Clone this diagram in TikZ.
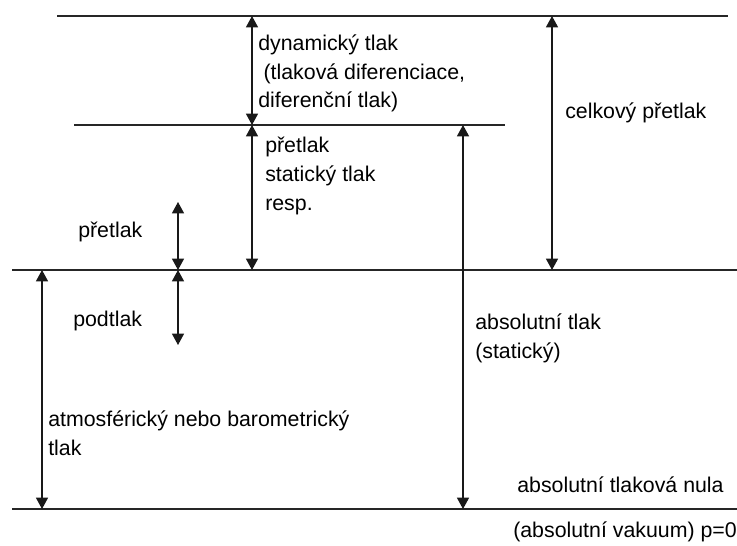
\documentclass[tikz,border=0pt]{standalone}
\usepackage{fontspec}
\setmainfont{Liberation Sans}
\usetikzlibrary{arrows.meta,positioning}

\begin{document}
\begin{tikzpicture}[x=0.75pt, y=-0.75pt]
\tikzset{levelline/.style={line width=1.4pt, black!85}, dimarrow/.style={{Triangle[width=9pt,length=8.5pt]}-{Triangle[width=9pt,length=8.5pt]}, line width=1pt, black!90}, textlabel/.style={anchor=base west, inner sep=0pt, align=left, font=\fontsize{16}{21.5}\selectfont}}
\useasboundingbox (0,0) rectangle (737,545);
% pressure levels
\coordinate (top west) at (57,16);
\coordinate (top east) at (728,16);
\coordinate (dyn west) at (74,125);
\coordinate (dyn east) at (505,125);
\coordinate (atm west) at (12,270);
\coordinate (atm east) at (737,270);
\coordinate (zero west) at (12,509);
\coordinate (zero east) at (737,509);
\draw[levelline] (top west) -- (top east);
\draw[levelline] (dyn west) -- (dyn east);
\draw[levelline] (atm west) -- (atm east);
\draw[levelline] (zero west) -- (zero east);
% free arrow ends
\coordinate (over tip) at (178,202);
\coordinate (under tip) at (178,345);
% arrows
\draw[dimarrow] (252,0 |- top west) -- (252,0 |- dyn west);
\draw[dimarrow] (252,0 |- dyn west) -- (252,0 |- atm west);
\draw[dimarrow] (over tip) -- (over tip |- atm west);
\draw[dimarrow] (under tip |- atm west) -- (under tip);
\draw[dimarrow] (42,0 |- atm west) -- (42,0 |- zero west);
\draw[dimarrow] (463,0 |- dyn west) -- (463,0 |- zero west);
\draw[dimarrow] (552,0 |- top west) -- (552,0 |- atm west);
% labels (multi-line nodes sit on their last baseline)
\node[textlabel] (dynlabel) at (258,108) {dynamický tlak\\\hspace{4pt}(tlaková diferenciace,\\diferenční tlak)};
\node[textlabel] (statlabel) at (265,210) {přetlak\\statický tlak\\resp.};
\node[textlabel] (overlabel) at (78,237) {přetlak};
\node[textlabel] (totallabel) at (565,119) {celkový přetlak};
\node[textlabel] (underlabel) at (73,326) {podtlak};
\node[textlabel] (abslabel) at (475,358) {absolutní tlak\\(statický)};
\node[textlabel] (atmlabel) at (48,455) {atmosférický nebo barometrický\\tlak};
\node[textlabel] (zerolabel) at (517,492) {absolutní tlaková nula};
\node[textlabel] (vaclabel) at (513,537) {(absolutní vakuum) p=0};
\end{tikzpicture}
\end{document}
